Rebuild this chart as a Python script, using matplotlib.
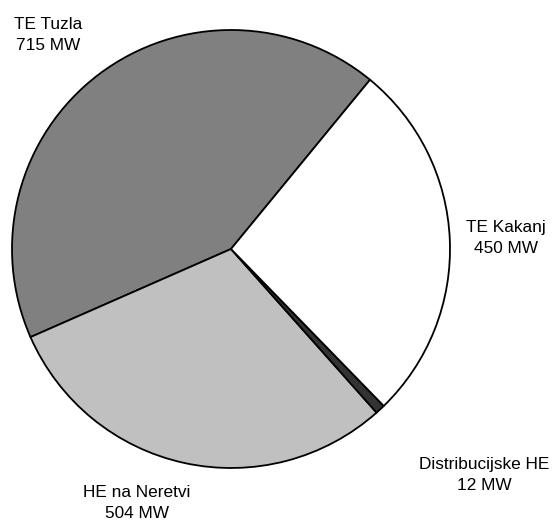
import matplotlib
matplotlib.use("Agg")
import matplotlib.pyplot as plt

# installed capacity by plant group
names = ["TE Tuzla", "HE na Neretvi", "Distribucijske HE", "TE Kakanj"]
power_mw = [715, 504, 12, 450]
fills = ["#808080", "#c0c0c0", "#333333", "#ffffff"]

# label anchor points (pixels from top-left)
label_xy = [(48, 35), (137, 503), (484, 475), (506, 238)]

W, H = 558, 523
fig = plt.figure(figsize=(W / 100, H / 100), dpi=100)
ax = fig.add_axes([0, 0, 1, 1])
ax.set_xlim(0, W)
ax.set_ylim(H, 0)
ax.set_aspect("equal")
ax.axis("off")

# pie drawn in flipped y axis, so clockwise on screen == counterclock in data
ax.pie(power_mw, colors=fills, startangle=-50.6, counterclock=False,
       center=(231, 249), radius=219,
       wedgeprops=dict(edgecolor="black", linewidth=1.3))
ax.set_xlim(0, W)
ax.set_ylim(H, 0)

for name, mw, (x, y) in zip(names, power_mw, label_xy):
    ax.text(x, y, f"{name}\n{mw} MW", ha="center", va="center",
            fontsize=12.4, family="Liberation Sans", linespacing=1.5)

fig.savefig("out.png", dpi=100)
